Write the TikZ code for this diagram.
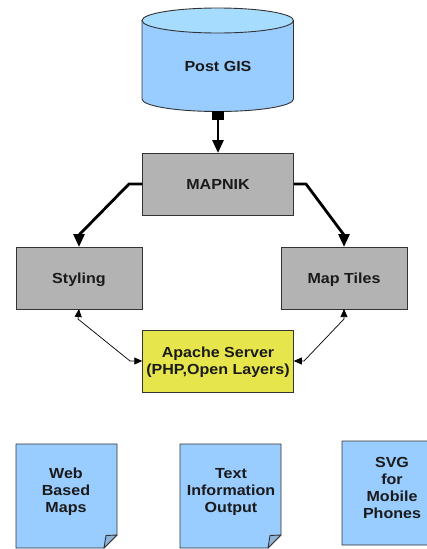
\documentclass[tikz,border=0pt]{standalone}
\usepackage{fontspec}
\setmainfont{Liberation Sans}[FakeStretch=1.1]
\usetikzlibrary{arrows.meta}
\definecolor{cylbody}{HTML}{99CCFF}
\definecolor{cyltop}{HTML}{A6DDFF}
\definecolor{boxgrey}{HTML}{B3B3B3}
\definecolor{boxyellow}{HTML}{E6E64C}
\definecolor{foldblue}{HTML}{8FB3D9}
\definecolor{edgedark}{HTML}{333333}
\definecolor{labeldark}{HTML}{1A1A1A}
\tikzset{
  lab/.style={font=\fontsize{14.6}{17}\selectfont\bfseries,text=labeldark,align=center},
  boxn/.style={lab,draw=edgedark,line width=0.9pt,inner sep=0pt,outer sep=0pt},
  oneline/.style={text height=10pt,text depth=0pt},
  greybox/.style={boxn,oneline,fill=boxgrey},
  yellowbox/.style={boxn,fill=boxyellow},
  frameless/.style={inner sep=0pt,outer sep=0pt},
  heavy/.style={line width=2.8pt,black,line join=round,-{Triangle[length=13pt,width=11pt]}},
  lightarrow/.style={line width=0.7pt,black,{Triangle[length=8pt,width=7pt]}-{Triangle[length=8pt,width=7pt]}},
  docshape/.style={draw=edgedark,line width=0.9pt,fill=cylbody,line join=round},
  foldshape/.style={draw=edgedark,line width=0.9pt,fill=foldblue,line join=round}
}
\begin{document}
\begin{tikzpicture}[x=1pt,y=-1pt]
\useasboundingbox (0,0) rectangle (427,549);
% database cylinder
\path[docshape] (142,20.5) -- (142,99) arc[start angle=180,end angle=0,x radius=75.75,y radius=12.5] -- (293.5,20.5) -- cycle;
\path[docshape,fill=cyltop] (217.75,20.5) ellipse[x radius=75.75,y radius=12.5];
\node[frameless,minimum width=151.5pt,minimum height=103.5pt] (gis) at (217.75,59.5) {};
\node[lab,oneline,frameless] (gistext) at (218,66) {Post GIS};
\node[frameless,fill=black,minimum width=12pt,minimum height=9pt] (plug) at (218,115.5) {};
% boxes
\node[greybox,minimum width=151.5pt,minimum height=62pt] (mapnik) at (218,184) {MAPNIK};
\node[greybox,minimum width=126pt,minimum height=62pt] (styling) at (79,278) {Styling};
\node[greybox,minimum width=126pt,minimum height=62pt] (tiles) at (344,278) {Map Tiles};
\node[yellowbox,minimum width=151.5pt,minimum height=62pt,label={[lab,yshift=-1pt]center:Apache Server\\(PHP,Open Layers)}] (apache) at (218,361) {};
% connectors
\draw[heavy] (plug.south) -- (mapnik.north);
\coordinate (bendl) at (129,184);
\coordinate (bendr) at (306,184);
\coordinate (elbowl) at (79,235);
\coordinate (elbowr) at (344,235);
\draw[heavy] (mapnik.west) -- (bendl) -- (elbowl) -- (styling.north);
\draw[heavy] (mapnik.east) -- (bendr) -- (elbowr) -- (tiles.north);
\coordinate (kneel) at (78,319);
\coordinate (kneela) at (130,361);
\coordinate (kneer) at (344,319);
\coordinate (kneera) at (304,361);
\draw[lightarrow] (styling.south) -- (kneel) -- (kneela) -- (apache.west);
\draw[lightarrow] (tiles.south) -- (kneer) -- (kneera) -- (apache.east);
% documents
\path[docshape] (16,444) -- (117,444) -- (117,535) -- (104,548) -- (16,548) -- cycle;
\path[foldshape] (117,535) -- (106,535.5) -- (104,548) -- cycle;
\node[lab,frameless] (web) at (66,492) {Web\\Based\\Maps};
\path[docshape] (180,444) -- (281,444) -- (281,535) -- (268,548) -- (180,548) -- cycle;
\path[foldshape] (281,535) -- (270,535.5) -- (268,548) -- cycle;
\node[lab,frameless] (text) at (231,492) {Text\\Information\\Output};
\begin{scope}
\clip (0,0) rectangle (427,549);
\path[docshape] (342,441) -- (443,441) -- (443,532) -- (430,545) -- (342,545) -- cycle;
\end{scope}
\node[lab,frameless] (svg) at (392,487.5) {SVG\\for\\Mobile\\Phones};
\end{tikzpicture}
\end{document}
